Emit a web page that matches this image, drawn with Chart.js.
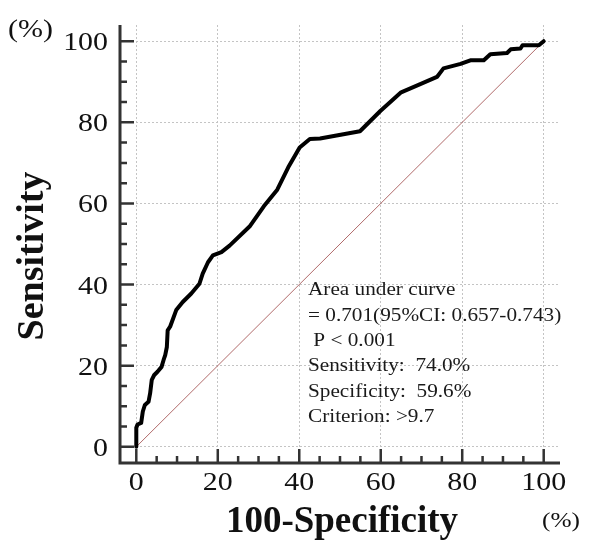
<!DOCTYPE html>
<html>
<head>
<meta charset="utf-8">
<script src="https://cdn.jsdelivr.net/npm/chart.js@4/dist/chart.umd.min.js"></script>
<style>
  body { margin: 0; background: #fff; }
  #roc { display: block; }
</style>
</head>
<body>
<canvas id="roc" width="589" height="544"></canvas>
<script>
// ROC curve points (100-Specificity, Sensitivity), in %
const fpr = [0, 0, 0.3, 1.2, 1.6, 2.1, 3.0, 3.4, 3.8, 4.4, 5.2, 6.2, 6.7, 7.1, 7.5, 7.7,
  8.3, 9.8, 11.4, 13.5, 15.5, 16.3, 17.6, 18.8, 20.9, 22.9, 27.8, 31.3, 34.6, 37.3,
  40.1, 42.6, 45.1, 54.9, 59.9, 65.0, 69.7, 73.8, 75.4, 79.6, 82.0, 85.3, 86.9, 91.0,
  91.9, 94.3, 94.8, 98.8, 100];
const sens = [0, 4.7, 5.5, 5.9, 8.7, 10.3, 11.1, 13.2, 16.5, 17.7, 18.5, 19.7, 21.4, 22.6, 24.6, 28.7,
  29.6, 33.7, 35.7, 37.8, 40.2, 42.7, 45.5, 47.2, 48.0, 49.6, 54.3, 59.3, 63.4, 68.9,
  73.8, 75.9, 76.0, 77.8, 82.8, 87.4, 89.4, 91.2, 93.3, 94.4, 95.3, 95.3, 96.8, 97.1,
  98.0, 98.2, 99.0, 99.0, 100];
// chance line
const refX = [0, 100];
const refY = [0, 100];
// axes
const tickLabels = [0, 20, 40, 60, 80, 100];
const minorStep = 5;
const axisMin = -4;
const axisMax = 104;
// text block
const notes = [
  'Area under curve',
  '= 0.701(95%CI: 0.657-0.743)',
  ' P < 0.001',
  'Sensitivity:  74.0%',
  'Specificity:  59.6%',
  'Criterion: >9.7'
];

const SERIF = '"Liberation Serif", "DejaVu Serif", serif';

function pts(xs, ys) {
  return xs.map((x, i) => ({x: x, y: ys[i]}));
}

// text with a bit of horizontal stretch, like the source image
function txt(ctx, s, x, y, size, bold, align, sx) {
  ctx.save();
  ctx.translate(x, y);
  ctx.scale(sx || 1, 1);
  ctx.font = (bold ? 'bold ' : '') + size + 'px ' + SERIF;
  ctx.textAlign = align || 'left';
  ctx.textBaseline = 'alphabetic';
  ctx.fillText(s, 0, 0);
  ctx.restore();
}

const framePlugin = {
  id: 'frame',
  afterDraw(chart) {
    const ctx = chart.ctx;
    const xs = chart.scales.x, ys = chart.scales.y;
    const a = chart.chartArea;
    ctx.save();

    // axis lines
    ctx.strokeStyle = '#333';
    ctx.lineWidth = 3;
    ctx.beginPath();
    ctx.moveTo(a.left, a.top);
    ctx.lineTo(a.left, a.bottom + 1.5);
    ctx.moveTo(a.left - 1.5, a.bottom);
    ctx.lineTo(a.right, a.bottom);
    ctx.stroke();

    // tick marks
    ctx.lineWidth = 2.5;
    ctx.beginPath();
    for (let v = 0; v <= 100; v += minorStep) {
      const len = v % 20 === 0 ? 14 : 7;
      const px = xs.getPixelForValue(v);
      ctx.moveTo(px, a.bottom);
      ctx.lineTo(px, a.bottom - len);
      const py = ys.getPixelForValue(v);
      ctx.moveTo(a.left, py);
      ctx.lineTo(a.left + len, py);
    }
    ctx.stroke();

    // tick labels
    ctx.fillStyle = '#111';
    tickLabels.forEach(v => {
      txt(ctx, String(v), xs.getPixelForValue(v), 490, 26, false, 'center', 1.15);
      txt(ctx, String(v), 108, ys.getPixelForValue(v) + 9, 26, false, 'right', 1.15);
    });

    // unit marks
    txt(ctx, '(%)', 8, 37, 25, false, 'left', 1.2);
    txt(ctx, '(%)', 542, 527, 22, false, 'left', 1.15);

    // axis titles
    txt(ctx, '100-Specificity', 342, 532, 37, true, 'center', 1);
    ctx.save();
    ctx.translate(43, 256);
    ctx.rotate(-Math.PI / 2);
    txt(ctx, 'Sensitivity', 0, 0, 38, true, 'center', 1);
    ctx.restore();

    // statistics block
    ctx.fillStyle = '#1a1a1a';
    const base = [295, 321, 346, 371, 396.5, 422];
    notes.forEach((s, i) => txt(ctx, s, 308, base[i], 18, false, 'left', 1.18));

    ctx.restore();
  }
};

function axis(fitFn) {
  return {
    type: 'linear',
    min: axisMin,
    max: axisMax,
    afterBuildTicks: s => { s.ticks = tickLabels.map(v => ({value: v})); },
    afterFit: fitFn,
    ticks: {display: false},
    grid: {color: '#c4c4c4', lineWidth: 1, drawTicks: false},
    border: {display: false, dash: [2, 2]}
  };
}

new Chart(document.getElementById('roc'), {
  type: 'line',
  data: {
    datasets: [
      {
        label: 'ROC',
        data: pts(fpr, sens),
        borderColor: '#000',
        borderWidth: 4,
        pointRadius: 0,
        fill: false,
        tension: 0,
        borderJoinStyle: 'round',
        borderCapStyle: 'round'
      },
      {
        label: 'Reference',
        data: pts(refX, refY),
        borderColor: '#b06a6a',
        borderWidth: 1,
        pointRadius: 0,
        fill: false,
        tension: 0
      }
    ]
  },
  options: {
    responsive: false,
    animation: false,
    layout: {padding: {top: 25, right: 29, left: 0, bottom: 0}},
    plugins: {legend: {display: false}, tooltip: {enabled: false}},
    scales: {
      x: axis(s => { s.height = 81; }),
      y: axis(s => { s.width = 120; })
    }
  },
  plugins: [framePlugin]
});
</script>
</body>
</html>
